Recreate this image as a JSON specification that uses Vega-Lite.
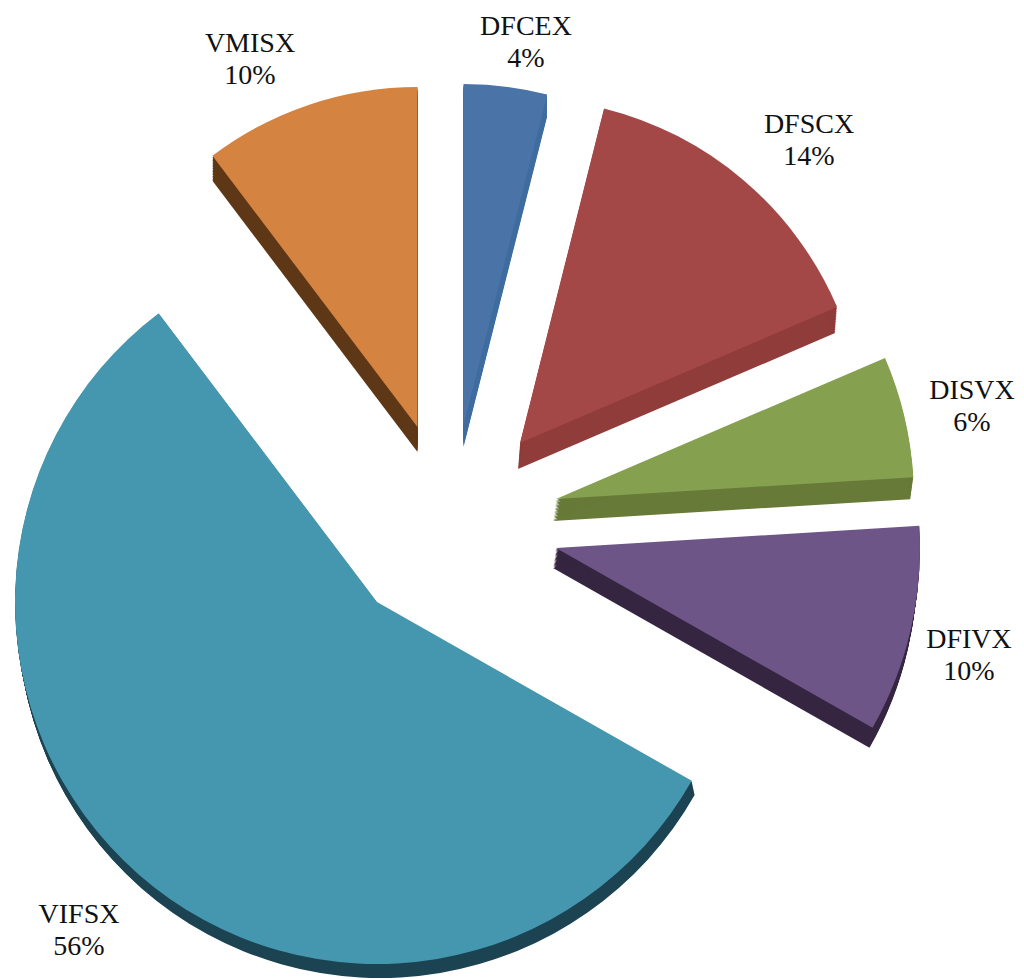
{
"$schema":"https://vega.github.io/schema/vega-lite/v6.json",
"width":1024,"height":979,"autosize":{"type":"none"},"padding":0,
"background":"white","view":{"stroke":null},
"config":{"view":{"stroke":null}},
"data":{"values":[
{"fund":"DFCEX","pct":"4%","start":0,"end":14.2,"r":341,"cx":463.5,"cy":425,"depth":22,"lean":0,"lx":526,"ly":43},
{"fund":"DFSCX","pct":"14%","start":14.1,"end":66.8,"r":345,"cx":520,"cy":443,"depth":26,"lean":-2,"lx":809,"ly":141},
{"fund":"DISVX","pct":"6%","start":66.8,"end":86.5,"r":358,"cx":556,"cy":499,"depth":22,"lean":-3,"lx":972,"ly":407},
{"fund":"DFIVX","pct":"10%","start":86.5,"end":119.6,"r":364,"cx":556,"cy":548,"depth":20,"lean":-3,"lx":969,"ly":656},
{"fund":"VIFSX","pct":"56%","start":119.6,"end":322.9,"r":362,"cx":377,"cy":602,"depth":14,"lean":3,"lx":79,"ly":931},
{"fund":"VMISX","pct":"10%","start":322.9,"end":360,"r":340,"cx":417.5,"cy":427,"depth":25,"lean":0,"lx":250,"ly":60}
]},
"encoding":{
"x":{"field":"cx","type":"quantitative","scale":{"domain":[0,1024],"range":[0,1024]},"axis":null},
"y":{"field":"cy","type":"quantitative","scale":{"domain":[0,979],"range":[0,979]},"axis":null},
"theta":{"field":"start","type":"quantitative","stack":null,"scale":{"domain":[0,360],"range":[0,6.283185]}},
"theta2":{"field":"end"},
"radius":{"field":"r","type":"quantitative","scale":null}
},
"layer":[
{"encoding":{"color":{"field":"fund","type":"nominal","legend":null,"scale":{"domain":["DFCEX","DFSCX","DISVX","DFIVX","VIFSX","VMISX"],"range":["#3f6c9f","#8f3c3a","#677a38","#352540","#1c4351","#5e3716"]}}},
"layer":[
{"mark":{"type":"arc","xOffset":{"expr":"datum.lean*0.0625"},"yOffset":{"expr":"datum.depth*0.0625"}}},
{"mark":{"type":"arc","xOffset":{"expr":"datum.lean*0.125"},"yOffset":{"expr":"datum.depth*0.125"}}},
{"mark":{"type":"arc","xOffset":{"expr":"datum.lean*0.1875"},"yOffset":{"expr":"datum.depth*0.1875"}}},
{"mark":{"type":"arc","xOffset":{"expr":"datum.lean*0.25"},"yOffset":{"expr":"datum.depth*0.25"}}},
{"mark":{"type":"arc","xOffset":{"expr":"datum.lean*0.3125"},"yOffset":{"expr":"datum.depth*0.3125"}}},
{"mark":{"type":"arc","xOffset":{"expr":"datum.lean*0.375"},"yOffset":{"expr":"datum.depth*0.375"}}},
{"mark":{"type":"arc","xOffset":{"expr":"datum.lean*0.4375"},"yOffset":{"expr":"datum.depth*0.4375"}}},
{"mark":{"type":"arc","xOffset":{"expr":"datum.lean*0.5"},"yOffset":{"expr":"datum.depth*0.5"}}},
{"mark":{"type":"arc","xOffset":{"expr":"datum.lean*0.5625"},"yOffset":{"expr":"datum.depth*0.5625"}}},
{"mark":{"type":"arc","xOffset":{"expr":"datum.lean*0.625"},"yOffset":{"expr":"datum.depth*0.625"}}},
{"mark":{"type":"arc","xOffset":{"expr":"datum.lean*0.6875"},"yOffset":{"expr":"datum.depth*0.6875"}}},
{"mark":{"type":"arc","xOffset":{"expr":"datum.lean*0.75"},"yOffset":{"expr":"datum.depth*0.75"}}},
{"mark":{"type":"arc","xOffset":{"expr":"datum.lean*0.8125"},"yOffset":{"expr":"datum.depth*0.8125"}}},
{"mark":{"type":"arc","xOffset":{"expr":"datum.lean*0.875"},"yOffset":{"expr":"datum.depth*0.875"}}},
{"mark":{"type":"arc","xOffset":{"expr":"datum.lean*0.9375"},"yOffset":{"expr":"datum.depth*0.9375"}}},
{"mark":{"type":"arc","xOffset":{"expr":"datum.lean"},"yOffset":{"expr":"datum.depth"}}}
]},
{"mark":{"type":"arc"},
"encoding":{"color":{"field":"fund","type":"nominal","legend":null,"scale":{"domain":["DFCEX","DFSCX","DISVX","DFIVX","VIFSX","VMISX"],"range":["#4a74a8","#a34846","#85a04e","#6e5588","#4596af","#d48341"]}}}},
{"mark":{"type":"text","font":"Liberation Serif","fontSize":28,"color":"#111111","dy":-16,"align":"center","baseline":"middle"},
"encoding":{"x":{"field":"lx","type":"quantitative"},"y":{"field":"ly","type":"quantitative"},"text":{"field":"fund"},"theta":null,"theta2":null,"radius":null}},
{"mark":{"type":"text","font":"Liberation Serif","fontSize":28,"color":"#111111","dy":16,"align":"center","baseline":"middle"},
"encoding":{"x":{"field":"lx","type":"quantitative"},"y":{"field":"ly","type":"quantitative"},"text":{"field":"pct"},"theta":null,"theta2":null,"radius":null}}
],
"resolve":{"scale":{"color":"independent"}}
}
